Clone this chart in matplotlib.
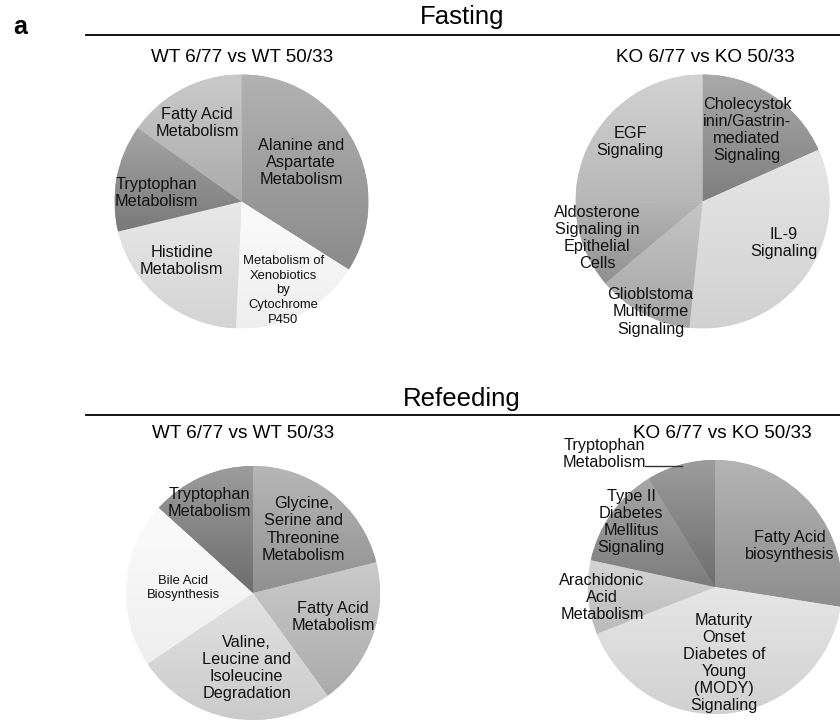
import numpy as np
import matplotlib
matplotlib.use('Agg')
import matplotlib.pyplot as plt
from matplotlib.lines import Line2D
from matplotlib import font_manager

# ---- pathway shares (% of enriched pathways) ----
wt_fast_labels = ['Alanine and\nAspartate\nMetabolism',
                  'Metabolism of\nXenobiotics\nby\nCytochrome\nP450',
                  'Histidine\nMetabolism', 'Tryptophan\nMetabolism',
                  'Fatty Acid\nMetabolism']
wt_fast_values = [34.0, 16.7, 20.5, 13.6, 15.2]

ko_fast_labels = ['Cholecystok\ninin/Gastrin-\nmediated\nSignaling',
                  'IL-9\nSignaling', 'Glioblstoma\nMultiforme\nSignaling',
                  'Aldosterone\nSignaling in\nEpithelial\nCells',
                  'EGF\nSignaling']
ko_fast_values = [18.3, 33.3, 12.2, 10.8, 25.3]

wt_refed_labels = ['Glycine,\nSerine and\nThreonine\nMetabolism',
                   'Fatty Acid\nMetabolism',
                   'Valine,\nLeucine and\nIsoleucine\nDegradation',
                   'Bile Acid\nBiosynthesis', 'Tryptophan\nMetabolism']
wt_refed_values = [21.1, 18.9, 25.6, 21.1, 13.3]

ko_refed_labels = ['Fatty Acid\nbiosynthesis',
                   'Maturity\nOnset\nDiabetes of\nYoung\n(MODY)\nSignaling',
                   'Arachidonic\nAcid\nMetabolism',
                   'Type II\nDiabetes\nMellitus\nSignaling',
                   'Tryptophan\nMetabolism']
ko_refed_values = [27.5, 41.5, 9.4, 12.9, 8.7]

# ---- layout ----
W, H = 840, 722
R = 127
FONT = 'Liberation Sans'
names = {f.name for f in font_manager.fontManager.ttflist}
NARROW = 'Liberation Sans Narrow' if 'Liberation Sans Narrow' in names else None

plt.rcParams['font.family'] = [FONT, 'DejaVu Sans']

fig = plt.figure(figsize=(W / 100, H / 100), dpi=100)


def fig_xy(x, y):
    return x / W, 1 - y / H


def draw_pie(cx, cy, values, labels, grays, label_pos, small=()):
    ax = fig.add_axes([(cx - R) / W, 1 - (cy + R) / H, 2 * R / W, 2 * R / H])
    wedges, _ = ax.pie(values, radius=1, startangle=90, counterclock=False,
                       colors=[str(g) for g in grays],
                       wedgeprops=dict(linewidth=0))
    # vertical shading inside every slice: lighter at its top, darker at its bottom
    for w, g in zip(wedges, grays):
        ext = w.get_path().get_extents()
        d = 0.15 * (1 - g) + 0.02
        shade = np.clip(np.linspace(g - d, g + d, 64), 0, 0.98)
        img = np.repeat(shade[:, None, None], 3, axis=2)
        im = ax.imshow(img, extent=[ext.x0, ext.x1, ext.y0, ext.y1],
                       origin='lower', aspect='auto', interpolation='bilinear',
                       zorder=1.5)
        im.set_clip_path(w)
    for i, (lab, (px, py)) in enumerate(zip(labels, label_pos)):
        fs, ls = (9.4, 1.3) if i in small else (11.7, 1.17)
        ax.text(px, py, lab, ha='center', va='center', fontsize=fs,
                linespacing=ls, color='#111111', zorder=3)
    ax.set_xlim(-1, 1)
    ax.set_ylim(-1, 1)
    ax.set_aspect('auto')
    ax.axis('off')
    return ax


# ---- headings ----
fig.text(*fig_xy(20, 27), 'a', fontsize=18, fontweight='bold',
         ha='center', va='center')
for title, ty, ly in [('Fasting', 17, 35), ('Refeeding', 399, 415)]:
    fig.text(*fig_xy(462, ty), title, fontsize=18.5, ha='center', va='center')
    x0, y0 = fig_xy(86, ly)
    fig.add_artist(Line2D([x0, 1.0], [y0, y0], transform=fig.transFigure,
                          color='black', lw=1.3))

sub_kw = dict(ha='center', va='center')
if NARROW:
    sub_kw.update(fontsize=15.5, family=[NARROW, FONT])
else:
    sub_kw.update(fontsize=13.6)
fig.text(*fig_xy(242, 57), 'WT 6/77 vs WT 50/33', **sub_kw)
fig.text(*fig_xy(705, 57), 'KO 6/77 vs KO 50/33', **sub_kw)
fig.text(*fig_xy(243, 434), 'WT 6/77 vs WT 50/33', **sub_kw)
fig.text(*fig_xy(722, 434), 'KO 6/77 vs KO 50/33', **sub_kw)

# ---- pies ----
draw_pie(241.5, 201.5, wt_fast_values, wt_fast_labels,
         [0.62, 0.96, 0.87, 0.56, 0.73],
         [(0.47, 0.31), (0.33, -0.70), (-0.47, -0.47), (-0.67, 0.065),
          (-0.35, 0.62)], small=(1,))

draw_pie(702.5, 201.5, ko_fast_values, ko_fast_labels,
         [0.58, 0.86, 0.71, 0.64, 0.77],
         [(0.35, 0.56), (0.64, -0.33), (-0.41, -0.87), (-0.83, -0.29),
          (-0.57, 0.47)])

draw_pie(253, 593, wt_refed_values, wt_refed_labels,
         [0.64, 0.73, 0.84, 0.96, 0.52],
         [(0.40, 0.50), (0.63, -0.19), (-0.05, -0.59), (-0.55, 0.04),
          (-0.34, 0.71)], small=(3,))

ax4 = draw_pie(715, 587, ko_refed_values, ko_refed_labels,
               [0.63, 0.86, 0.78, 0.57, 0.52],
               [(0.59, 0.32), (0.07, -0.60), (-0.89, -0.08), (-0.66, 0.51),
                (-0.87, 1.05)])
# leader line for the small Tryptophan slice
ax4.plot([-0.55, -0.26], [0.95, 0.95], color='#333333', lw=1, clip_on=False,
         zorder=3)
for t in ax4.texts:
    t.set_clip_on(False)

fig.savefig('out.png', dpi=100)
